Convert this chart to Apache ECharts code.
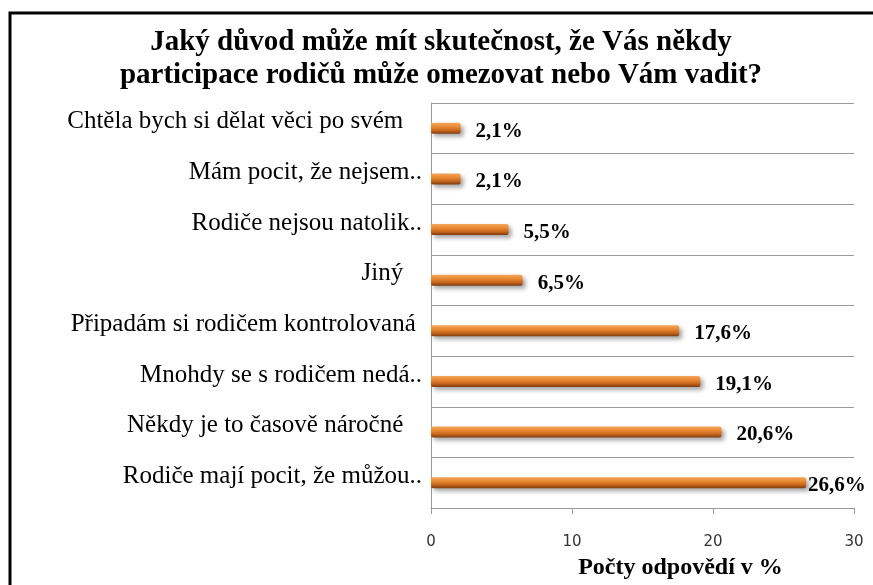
<!DOCTYPE html>
<html>
<head>
<meta charset="utf-8">
<script src="https://cdn.jsdelivr.net/npm/echarts@6/dist/echarts.min.js"></script>
<style>
html,body{margin:0;padding:0;background:#fff;}
#chart{width:873px;height:585px;}
</style>
</head>
<body>
<div id="chart"></div>
<script>
const titleText = "Jaký důvod může mít skutečnost, že Vás někdy\nparticipace rodičů může omezovat nebo Vám vadit?";
const categories = [
  "Chtěla bych si dělat věci po svém   ",
  "Mám pocit, že nejsem..",
  "Rodiče nejsou natolik..",
  "Jiný   ",
  "Připadám si rodičem kontrolovaná ",
  "Mnohdy se s rodičem nedá..",
  "Někdy je to časově náročné   ",
  "Rodiče mají pocit, že můžou.."
];
const values = [2.1, 2.1, 5.5, 6.5, 17.6, 19.1, 20.6, 26.6];
const xTicks = [0, 10, 20, 30];
const axisName = "Počty odpovědí v %";

const chart = echarts.init(document.getElementById('chart'), null, {renderer: 'canvas'});
const serif = "'Liberation Serif', 'Times New Roman', serif";

const barColor = new echarts.graphic.LinearGradient(0, 0, 0, 1, [
  {offset: 0, color: '#f5a55a'},
  {offset: 0.35, color: '#e98a33'},
  {offset: 0.7, color: '#c8651c'},
  {offset: 1, color: '#7c3a0c'}
]);

const data = values.map(v => ({
  value: v,
  label: {distance: v > 25 ? 2 : 15}
}));

chart.setOption({
  animation: false,
  backgroundColor: '#ffffff',
  title: {
    text: titleText,
    left: 436,
    top: 21,
    textAlign: 'center',
    textStyle: {fontFamily: serif, fontWeight: 'bold', fontSize: 29, color: '#000', lineHeight: 33}
  },
  graphic: [{
    type: 'rect',
    shape: {x: 10, y: 13, width: 900, height: 620},
    style: {fill: 'none', stroke: '#000', lineWidth: 3},
    silent: true
  }],
  grid: {left: 431, right: 19, top: 103, bottom: 77, containLabel: false},
  xAxis: {
    type: 'value',
    min: 0, max: 30, interval: 10,
    name: axisName,
    nameLocation: 'middle',
    nameGap: 48,
    nameTextStyle: {fontFamily: serif, fontWeight: 'bold', fontSize: 24, color: '#000', padding: [0, 0, 0, 76]},
    axisLine: {show: true, lineStyle: {color: '#9a9a9a', width: 1}},
    axisTick: {show: true, length: 6, lineStyle: {color: '#9a9a9a'}},
    axisLabel: {fontFamily: "'DejaVu Sans', Verdana, sans-serif", fontSize: 15, color: '#333', margin: 27,
      formatter: v => xTicks.includes(v) ? String(v) : ''},
    splitLine: {show: false}
  },
  yAxis: {
    type: 'category',
    data: categories,
    inverse: true,
    axisLine: {show: true, lineStyle: {color: '#9a9a9a', width: 1}},
    axisTick: {show: false},
    axisLabel: {fontFamily: serif, fontSize: 25, color: '#000', margin: 9, verticalAlign: 'bottom', lineHeight: 13},
    splitLine: {show: true, lineStyle: {color: '#9a9a9a', width: 1}}
  },
  series: [{
    type: 'bar',
    data: data,
    barWidth: 11,
    itemStyle: {
      color: barColor,
      borderRadius: 2,
      shadowColor: 'rgba(0,0,0,0.35)',
      shadowBlur: 4,
      shadowOffsetX: 3,
      shadowOffsetY: 3
    },
    label: {
      show: true,
      position: 'right',
      offset: [0, 3],
      fontFamily: serif,
      fontWeight: 'bold',
      fontSize: 21,
      color: '#000',
      formatter: p => p.value.toFixed(1).replace('.', ',') + '%'
    }
  }]
});
</script>
</body>
</html>
